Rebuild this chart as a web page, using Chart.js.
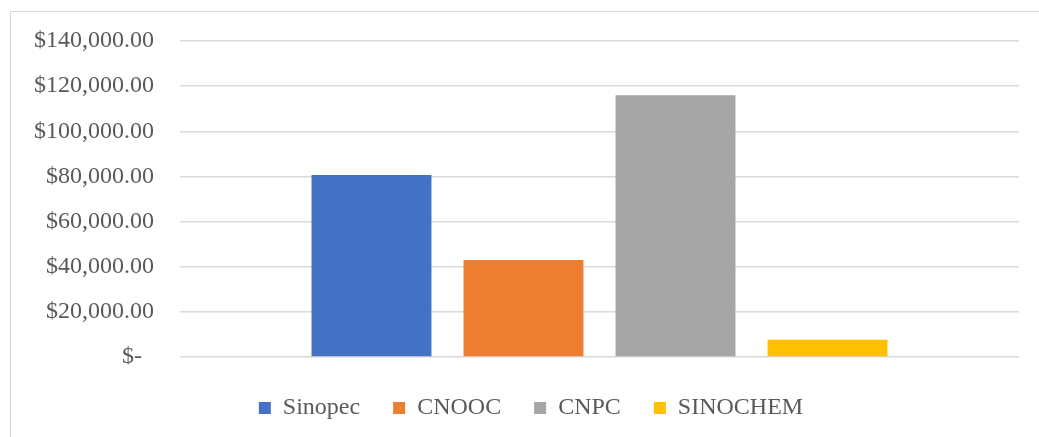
<!DOCTYPE html>
<html>
<head>
<meta charset="utf-8">
<title>Company values</title>
<script src="https://cdn.jsdelivr.net/npm/chart.js@4/dist/chart.umd.min.js"></script>
<style>
  html, body { margin: 0; padding: 0; background: #ffffff; overflow: hidden; }
  #wrap { position: relative; width: 1039px; height: 437px; }
  #frame { position: absolute; left: 10px; top: 11px; width: 2000px; height: 2000px;
           border: 1.5px solid #d9d9d9; box-sizing: border-box; }
  #chart { position: absolute; left: 0; top: 0; }
</style>
</head>
<body>
<div id="wrap">
  <div id="frame"></div>
  <canvas id="chart" width="1039" height="437"></canvas>
</div>
<script>
// Companies and their values (USD)
const categories = [''];
const companies = ['Sinopec', 'CNOOC', 'CNPC', 'SINOCHEM'];
const sinopecValues = [80600];
const cnoocValues = [43000];
const cnpcValues = [116000];
const sinochemValues = [7600];

// Vertical axis ticks
const yTickValues = [0, 20000, 40000, 60000, 80000, 100000, 120000, 140000];
const yTickLabels = ['$-  ', '$20,000.00', '$40,000.00', '$60,000.00', '$80,000.00',
                     '$100,000.00', '$120,000.00', '$140,000.00'];

const seriesColors = ['#4472C4', '#ED7D31', '#A5A5A5', '#FFC000'];
const seriesValues = [sinopecValues, cnoocValues, cnpcValues, sinochemValues];

const fontFamily = "'Liberation Serif', 'Times New Roman', serif";
const textColor = '#595959';
const gridColor = '#d9d9d9';

const datasets = companies.map((name, i) => ({
  label: name,
  data: seriesValues[i],
  backgroundColor: seriesColors[i],
  borderWidth: 0,
  categoryPercentage: 0.7247,
  barPercentage: 0.789
}));

// Nudge the legend row a little to the right of the canvas centre
const legendShift = {
  id: 'legendShift',
  afterLayout(chart) {
    const lg = chart.legend;
    if (lg) { lg.left += 11.5; lg.right += 11.5; }
  }
};

new Chart(document.getElementById('chart'), {
  type: 'bar',
  data: { labels: categories, datasets },
  plugins: [legendShift],
  options: {
    responsive: false,
    animation: false,
    layout: { padding: { left: 20, right: 20, top: 41, bottom: 7 } },
    plugins: {
      tooltip: { enabled: false },
      legend: {
        position: 'bottom',
        labels: {
          boxWidth: 12,
          boxHeight: 12,
          padding: 33,
          color: textColor,
          font: { family: fontFamily, size: 24 }
        }
      }
    },
    scales: {
      x: {
        grid: { display: false },
        border: { display: false },
        ticks: { display: false },
        afterFit: (scale) => { scale.height = 6; }
      },
      y: {
        min: 0,
        max: 140000,
        afterBuildTicks: (scale) => {
          scale.ticks = yTickValues.map(v => ({ value: v }));
        },
        afterFit: (scale) => { scale.width = 160; },
        grid: { color: gridColor, lineWidth: 1.5, drawTicks: false },
        border: { display: false },
        ticks: {
          padding: 26,
          color: textColor,
          font: { family: fontFamily, size: 24 },
          callback: (value) => {
            const i = yTickValues.indexOf(value);
            return i >= 0 ? yTickLabels[i] : '';
          }
        }
      }
    }
  }
});
</script>
</body>
</html>
